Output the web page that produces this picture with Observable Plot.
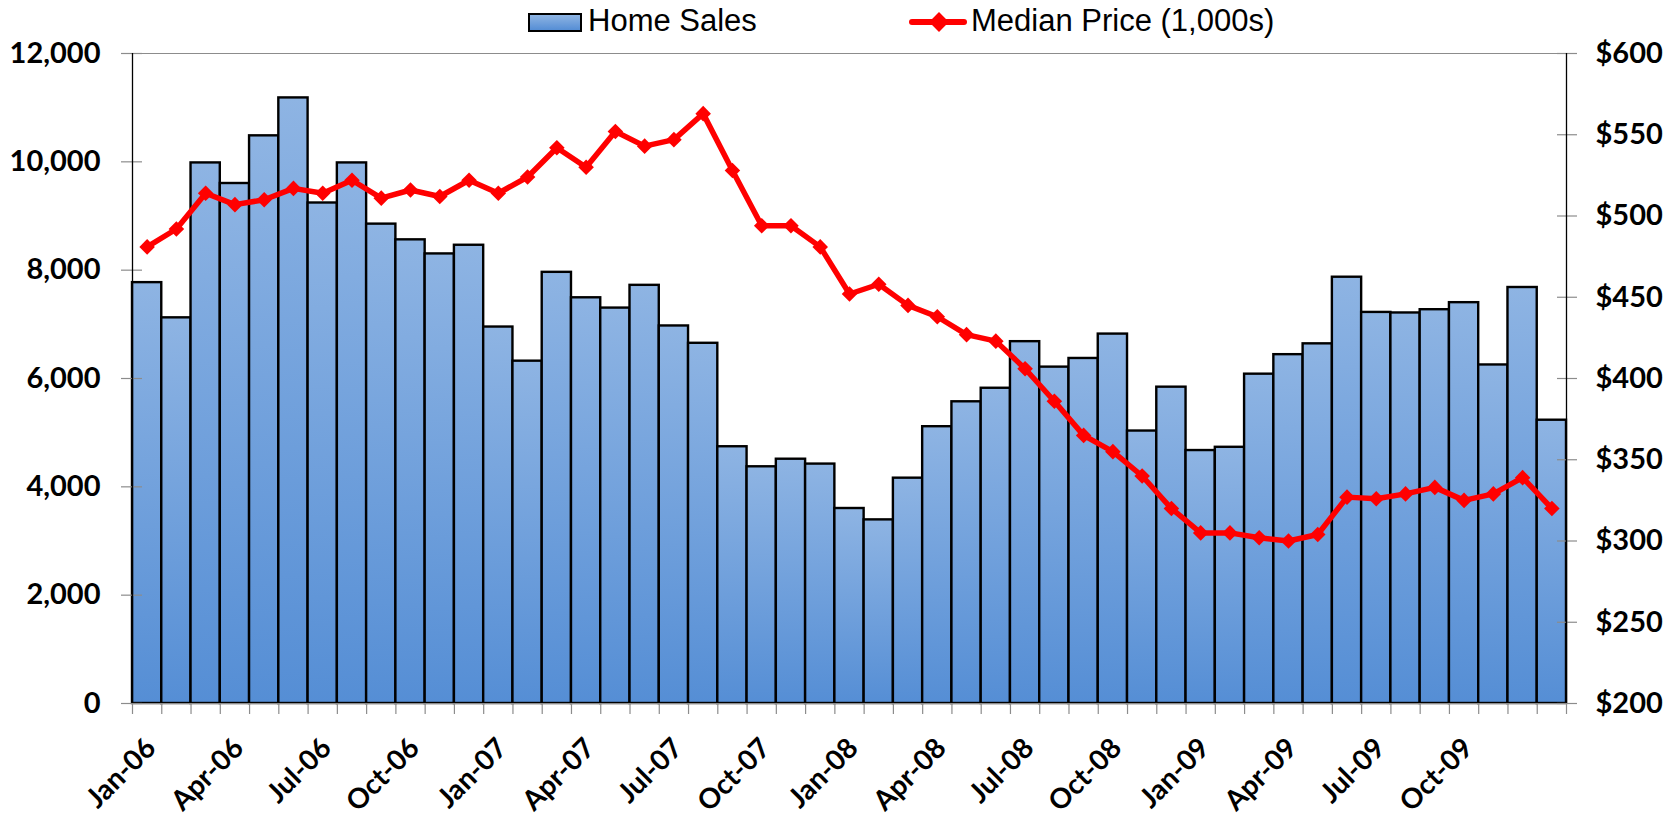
<!DOCTYPE html>
<html>
<head>
<meta charset="utf-8">
<script src="https://cdn.jsdelivr.net/npm/d3@7"></script>
<script src="https://cdn.jsdelivr.net/npm/@observablehq/plot@0.6"></script>
<style>
  html, body { margin: 0; padding: 0; background: #fff; overflow: hidden; }
  #wrap { position: relative; width: 1671px; height: 821px; }
  #legend { position: absolute; left: 0; top: 0; width: 1671px; height: 44px;
            font-family: "Liberation Sans", Arial, sans-serif; font-size: 31px; color: #000; }
  .lg { position: absolute; }
  .txt { top: 0; line-height: 42px; white-space: nowrap; }
  #swatch { left: 528px; top: 13px; width: 54px; height: 19px; box-sizing: border-box;
            border: 2px solid #000; background: linear-gradient(#8EB4E3, #558ED5); }
  #redline { left: 909px; top: 19px; width: 58px; height: 6px; background: #FF0000; border-radius: 3px; }
  #reddiamond { left: 932px; top: 15px; width: 14px; height: 14px; background: #FF0000; transform: rotate(45deg); }
</style>
</head>
<body>
<div id="wrap">
  <div id="chart"></div>
  <div id="legend">
    <div class="lg" id="swatch"></div>
    <div class="lg txt" style="left:588px">Home Sales</div>
    <div class="lg" id="redline"></div>
    <div class="lg" id="reddiamond"></div>
    <div class="lg txt" style="left:971px">Median Price (1,000s)</div>
  </div>
</div>
<script>
const months = [
  "Jan-06","Feb-06","Mar-06","Apr-06","May-06","Jun-06","Jul-06","Aug-06","Sep-06","Oct-06","Nov-06","Dec-06",
  "Jan-07","Feb-07","Mar-07","Apr-07","May-07","Jun-07","Jul-07","Aug-07","Sep-07","Oct-07","Nov-07","Dec-07",
  "Jan-08","Feb-08","Mar-08","Apr-08","May-08","Jun-08","Jul-08","Aug-08","Sep-08","Oct-08","Nov-08","Dec-08",
  "Jan-09","Feb-09","Mar-09","Apr-09","May-09","Jun-09","Jul-09","Aug-09","Sep-09","Oct-09","Nov-09","Dec-09",
  "Jan-10"
];
const homeSales = [
  7770, 7120, 9980, 9600, 10480, 11180, 9240, 9980, 8850, 8560, 8300, 8460,
  6950, 6320, 7960, 7490, 7300, 7720, 6970, 6650, 4740, 4370, 4510, 4420,
  3600, 3390, 4160, 5110, 5570, 5820, 6680, 6210, 6370, 6820, 5030, 5840,
  4670, 4730, 6080, 6440, 6640, 7870, 7220, 7210, 7270, 7400, 6250, 7680,
  5230
];
const medianPrice = [
  481, 492, 514, 507, 510, 517, 514, 522, 511, 516, 512, 522,
  514, 524, 542, 530, 552, 543, 547, 563, 528, 494, 494, 481,
  452, 458, 445, 438, 427, 423, 406, 386, 365, 355, 340, 320,
  305, 305, 302, 300, 304, 327, 326, 329, 333, 325, 329, 339,
  320
];
const labelMonths = ["Jan-06","Apr-06","Jul-06","Oct-06","Jan-07","Apr-07","Jul-07","Oct-07",
                     "Jan-08","Apr-08","Jul-08","Oct-08","Jan-09","Apr-09","Jul-09","Oct-09"];
const salesTicks = [0, 2000, 4000, 6000, 8000, 10000, 12000];
const priceTicks = [200, 250, 300, 350, 400, 450, 500, 550, 600];

// scale conversion: right axis ($200–$600) onto left axis (0–12,000)
const salesMax = salesTicks[salesTicks.length - 1];
const pMin = priceTicks[0], pMax = priceTicks[priceTicks.length - 1];
const toSales = p => (p - pMin) / (pMax - pMin) * salesMax;
const toPrice = s => pMin + s / salesMax * (pMax - pMin);

const data = months.map((m, i) => ({m, i, sales: homeSales[i], price: medianPrice[i]}));
const n = months.length;
const boundaries = d3.range(n + 1);
const labelTicks = labelMonths.map(m => months.indexOf(m) + 0.5);

const chart = Plot.plot({
  width: 1671,
  height: 821,
  marginLeft: 132,
  marginRight: 105,
  marginTop: 53,
  marginBottom: 118,
  style: {fontFamily: "Lato, 'Open Sans', sans-serif", fontSize: "29px", fontWeight: "bold", background: "#fff", color: "#000"},
  x: {domain: [0, n], axis: null},
  y: {domain: [0, salesMax], axis: null},
  marks: [
    Plot.rectY(data, {x1: d => d.i, x2: d => d.i + 1, y: "sales", fill: "url(#barGrad)", stroke: "#000", strokeWidth: 2.4}),
    Plot.ruleY([salesMax], {stroke: "#8c8c8c", strokeWidth: 1.2}),
    Plot.ruleY([0], {stroke: "#8c8c8c", strokeWidth: 1.2}),
    // left axis
    Plot.axisY({ticks: salesTicks, anchor: "left", tickSize: 21, dx: 10, fill: "none", stroke: "#8c8c8c", strokeWidth: 1.2, label: null}),
    Plot.axisY({ticks: salesTicks, anchor: "left", tickSize: 0, tickPadding: 32, tickFormat: d3.format(","), label: null}),
    Plot.ruleX([0], {stroke: "#000", strokeWidth: 1.3}),
    // right axis
    Plot.axisY({ticks: priceTicks.map(toSales), anchor: "right", tickSize: 20, dx: -10, fill: "none", stroke: "#8c8c8c", strokeWidth: 1.2, label: null}),
    Plot.axisY({ticks: priceTicks.map(toSales), anchor: "right", tickSize: 0, tickPadding: 29, tickFormat: s => "$" + Math.round(toPrice(s)), label: null}),
    Plot.ruleX([n], {stroke: "#000", strokeWidth: 1.3}),
    // x axis
    Plot.axisX({ticks: boundaries, anchor: "bottom", tickSize: 11, fill: "none", stroke: "#8c8c8c", strokeWidth: 1.2, label: null}),
    Plot.axisX({ticks: labelTicks, anchor: "bottom", tickSize: 0, tickPadding: 40, dx: 4, tickRotate: -45, fontSize: 28, tickFormat: v => months[Math.round(v - 0.5)], label: null}),
    // median price line
    Plot.line(data, {x: d => d.i + 0.5, y: d => toSales(d.price), stroke: "#FF0000", strokeWidth: 5.5, strokeLinejoin: "round"}),
    Plot.dot(data, {x: d => d.i + 0.5, y: d => toSales(d.price), symbol: "diamond2", r: 7, fill: "#FF0000", stroke: "none"})
  ]
});

const svg = d3.select(chart);
const defs = svg.insert("defs", ":first-child");
const grad = defs.append("linearGradient").attr("id", "barGrad").attr("x1", 0).attr("y1", 0).attr("x2", 0).attr("y2", 1);
grad.append("stop").attr("offset", "0%").attr("stop-color", "#8EB4E3");
grad.append("stop").attr("offset", "100%").attr("stop-color", "#558ED5");

document.getElementById("chart").appendChild(chart);
</script>
</body>
</html>
